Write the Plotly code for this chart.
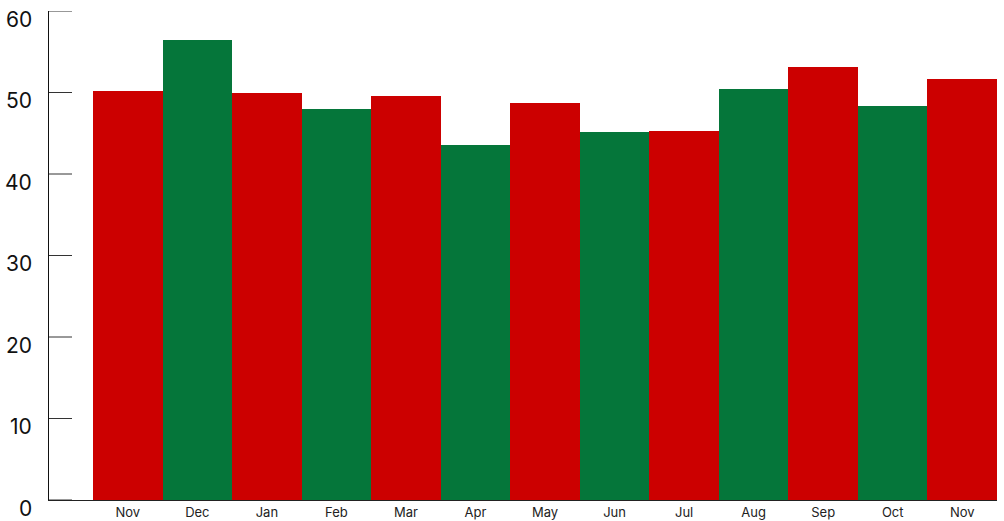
import plotly.graph_objects as go

months = ["Nov", "Dec", "Jan", "Feb", "Mar", "Apr", "May", "Jun", "Jul", "Aug", "Sep", "Oct", "Nov"]
values = [50.2, 56.4, 49.9, 48.0, 49.6, 43.6, 48.7, 45.2, 45.3, 50.4, 53.1, 48.3, 51.7]
colors = ["#cc0000", "#05763a", "#cc0000", "#05763a", "#cc0000", "#05763a", "#cc0000",
          "#05763a", "#cc0000", "#05763a", "#cc0000", "#05763a", "#cc0000"]
y_ticks = [0, 10, 20, 30, 40, 50, 60]

positions = list(range(len(months)))

fig = go.Figure(go.Bar(x=positions, y=values, marker=dict(color=colors, line=dict(width=0)),
                       width=1.0))

font_family = "Inter, Roboto, sans-serif"
plot_w = 1004 - 49 - 7

fig.update_layout(
    width=1004, height=521,
    margin=dict(l=49, r=7, t=11, b=21),
    paper_bgcolor="white", plot_bgcolor="white",
    showlegend=False, bargap=0,
    xaxis=dict(range=[-1.133, 12.5], tickvals=positions, ticktext=months, automargin=False,
               showgrid=False, zeroline=False, showline=True, linecolor="#222", linewidth=1,
               ticks="", tickfont=dict(family=font_family, size=13, color="#222"),
               ticklabelstandoff=0),
    yaxis=dict(range=[0, 60], showticklabels=False, automargin=False, ticks="",
               showgrid=False, zeroline=False, showline=True, linecolor="#111", linewidth=1),
)

for v in y_ticks:
    fig.add_shape(type="line", xref="paper", yref="y", x0=0, x1=23 / plot_w, y0=v, y1=v,
                  line=dict(color="#333", width=1), layer="above")
    fig.add_annotation(x=0, xref="paper", y=v, yref="y", text=str(v), showarrow=False,
                       xanchor="right", yanchor="middle", xshift=-15, yshift=-8,
                       font=dict(family=font_family, size=21, color="#111"))

fig.write_html("out.html")
